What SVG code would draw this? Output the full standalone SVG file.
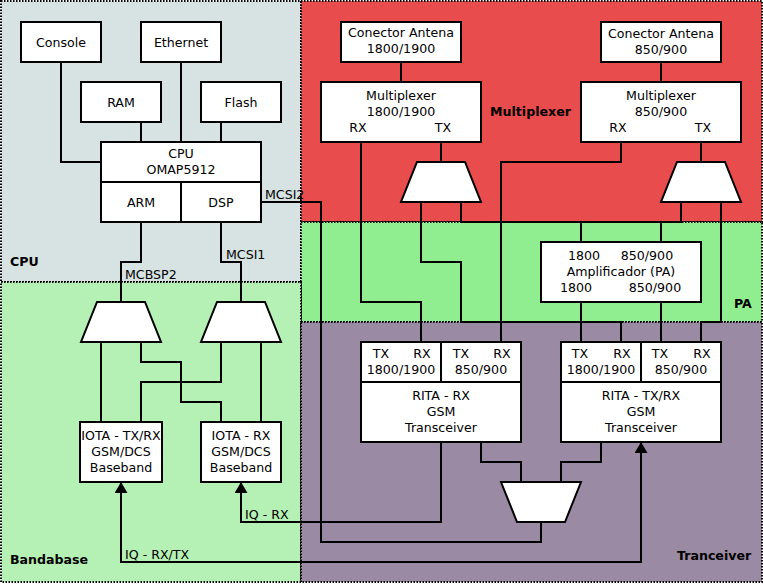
<svg xmlns="http://www.w3.org/2000/svg" width="763" height="584" viewBox="0 0 763 584">
<style>
.region{stroke:#000;stroke-width:2;stroke-dasharray:1.5 1.5}
.box{fill:#fff;stroke:#000;stroke-width:2}
.c{fill:none;stroke:#000;stroke-width:2}
text{font-family:"DejaVu Sans","Liberation Sans",sans-serif;font-size:12.6px;fill:#000}
.m{text-anchor:middle}
.b{font-weight:bold}
</style>
<defs>
<marker id="arr" viewBox="0 0 11 13" refX="11" refY="6.5" markerWidth="11" markerHeight="13" markerUnits="userSpaceOnUse" orient="auto-start-reverse">
<path d="M0,0 L11,6.5 L0,13 z" fill="#000"/>
</marker>
</defs>
<g id="regions">
<rect class="region" x="1" y="1" width="300" height="281" fill="#d7e3e3"/>
<rect class="region" x="301" y="1" width="461" height="221" fill="#e84c4c"/>
<rect class="region" x="301" y="222" width="461" height="100" fill="#90ee90"/>
<rect class="region" x="1" y="282" width="300" height="300" fill="#b5f1b5"/>
<rect class="region" x="301" y="322" width="461" height="260" fill="#9b8aa3"/>
<text class="b" x="10" y="265.5">CPU</text>
<text class="b" x="10" y="564">Bandabase</text>
<text class="b" x="490" y="116.2">Multiplexer</text>
<text class="b" x="734" y="308">PA</text>
<text class="b" x="677" y="560.2">Tranceiver</text>
</g>
<g id="connectors">
<path class="c" d="M61,62 V162 H101"/>
<path class="c" d="M181,62 V142"/>
<path class="c" d="M141,122 V142"/>
<path class="c" d="M221,122 V142"/>
<path class="c" d="M141,222 V262 H121 V302"/>
<path class="c" d="M221,222 V262 H241 V302"/>
<path class="c" d="M261,202 H321 V542 H541 V522"/>
<path class="c" d="M101,342 V422"/>
<path class="c" d="M141,342 V362 H181 V402 H221 V422"/>
<path class="c" d="M221,342 V382 H141 V422"/>
<path class="c" d="M261,342 V422"/>
<path class="c" d="M121,482 V562 H641 V442" marker-start="url(#arr)" marker-end="url(#arr)"/>
<path class="c" d="M441,442 V522 H241 V482" marker-end="url(#arr)"/>
<path class="c" d="M401,62 V82"/>
<path class="c" d="M661,62 V82"/>
<path class="c" d="M361,142 V302 H421 V342"/>
<path class="c" d="M441,142 V162"/>
<path class="c" d="M421,202 V262 H461 V322 H621 V342"/>
<path class="c" d="M461,202 V222 H681 V202"/>
<path class="c" d="M581,222 V242"/>
<path class="c" d="M661,222 V242"/>
<path class="c" d="M621,142 V162 H501 V342"/>
<path class="c" d="M701,142 V162"/>
<path class="c" d="M721,202 V322 H701 V342"/>
<path class="c" d="M581,302 V342"/>
<path class="c" d="M661,302 V342"/>
<path class="c" d="M481,442 V462 H521 V482"/>
<path class="c" d="M601,442 V462 H561 V482"/>
</g>
<g id="console"><rect class="box" x="21" y="22" width="80" height="40"/><text class="m" x="61" y="46.5">Console</text></g>
<g id="ethernet"><rect class="box" x="141" y="22" width="80" height="40"/><text class="m" x="181" y="46.5">Ethernet</text></g>
<g id="ram"><rect class="box" x="81" y="82" width="80" height="40"/><text class="m" x="121" y="106.5">RAM</text></g>
<g id="flash"><rect class="box" x="201" y="82" width="80" height="40"/><text class="m" x="241" y="106.5">Flash</text></g>
<g id="cpu">
<rect class="box" x="101" y="142" width="160" height="40"/>
<text class="m" x="181" y="158.2">CPU</text><text class="m" x="181" y="174.2">OMAP5912</text>
</g>
<g id="arm"><rect class="box" x="101" y="182" width="80" height="40"/><text class="m" x="141" y="206.5">ARM</text></g>
<g id="dsp"><rect class="box" x="181" y="182" width="80" height="40"/><text class="m" x="221" y="206.5">DSP</text></g>
<g id="labels">
<text x="265" y="198.8">MCSI2</text>
<text x="226" y="258.8">MCSI1</text>
<text x="125" y="278.8">MCBSP2</text>
<text x="245" y="518.5">IQ - RX</text>
<text x="125" y="559.2">IQ - RX/TX</text>
</g>
<g id="mux-bb1"><polygon class="box" points="97,302 145,302 161,342 81,342"/></g>
<g id="mux-bb2"><polygon class="box" points="217,302 265,302 281,342 201,342"/></g>
<g id="iota-txrx">
<rect class="box" x="80" y="422" width="82" height="60"/>
<text class="m" x="121" y="440.2">IOTA - TX/RX</text><text class="m" x="121" y="456.2">GSM/DCS</text><text class="m" x="121" y="472.2">Baseband</text>
</g>
<g id="iota-rx">
<rect class="box" x="201" y="422" width="80" height="60"/>
<text class="m" x="241" y="440.2">IOTA - RX</text><text class="m" x="241" y="456.2">GSM/DCS</text><text class="m" x="241" y="472.2">Baseband</text>
</g>
<g id="antena1"><rect class="box" x="341" y="22" width="120" height="40"/><text class="m" x="401" y="37.2">Conector Antena</text><text class="m" x="401" y="53">1800/1900</text></g>
<g id="antena2"><rect class="box" x="601" y="22" width="120" height="40"/><text class="m" x="661" y="38">Conector Antena</text><text class="m" x="661" y="54">850/900</text></g>
<g id="mux1">
<rect class="box" x="321" y="82" width="160" height="60"/>
<text class="m" x="401" y="100.2">Multiplexer</text><text class="m" x="401" y="116.2">1800/1900</text>
<text class="m" x="358" y="132.2">RX</text><text class="m" x="443" y="132.2">TX</text>
</g>
<g id="mux2">
<rect class="box" x="581" y="82" width="160" height="60"/>
<text class="m" x="661" y="100.2">Multiplexer</text><text class="m" x="661" y="116.2">850/900</text>
<text class="m" x="618" y="132.2">RX</text><text class="m" x="703" y="132.2">TX</text>
</g>
<g id="mux-tx1"><polygon class="box" points="417,162 465,162 481,202 401,202"/></g>
<g id="mux-tx2"><polygon class="box" points="677,162 725,162 741,202 661,202"/></g>
<g id="pa">
<rect class="box" x="541" y="242" width="160" height="60"/>
<text class="m" x="584" y="259.8">1800</text><text class="m" x="647" y="259.8">850/900</text>
<text class="m" x="621" y="276.2">Amplificador (PA)</text>
<text class="m" x="576" y="291.8">1800</text><text class="m" x="655" y="291.8">850/900</text>
</g>
<g id="rita-rx">
<rect class="box" x="361" y="342" width="80" height="40"/>
<rect class="box" x="441" y="342" width="80" height="40"/>
<rect class="box" x="361" y="382" width="160" height="60"/>
<text class="m" x="381" y="357.8">TX</text><text class="m" x="422" y="357.8">RX</text><text class="m" x="401" y="373.8">1800/1900</text>
<text class="m" x="461" y="357.8">TX</text><text class="m" x="502" y="357.8">RX</text><text class="m" x="481" y="373.8">850/900</text>
<text class="m" x="441" y="400.2">RITA - RX</text><text class="m" x="441" y="416">GSM</text><text class="m" x="441" y="432">Transceiver</text>
</g>
<g id="rita-txrx">
<rect class="box" x="561" y="342" width="80" height="40"/>
<rect class="box" x="641" y="342" width="80" height="40"/>
<rect class="box" x="561" y="382" width="160" height="60"/>
<text class="m" x="580" y="357.8">TX</text><text class="m" x="622" y="357.8">RX</text><text class="m" x="601" y="373.8">1800/1900</text>
<text class="m" x="660" y="357.8">TX</text><text class="m" x="702" y="357.8">RX</text><text class="m" x="681" y="373.8">850/900</text>
<text class="m" x="641" y="400.2">RITA - TX/RX</text><text class="m" x="641" y="416">GSM</text><text class="m" x="641" y="432">Transceiver</text>
</g>
<g id="mux-rita"><polygon class="box" points="501,482 581,482 565,522 517,522"/></g>
</svg>
